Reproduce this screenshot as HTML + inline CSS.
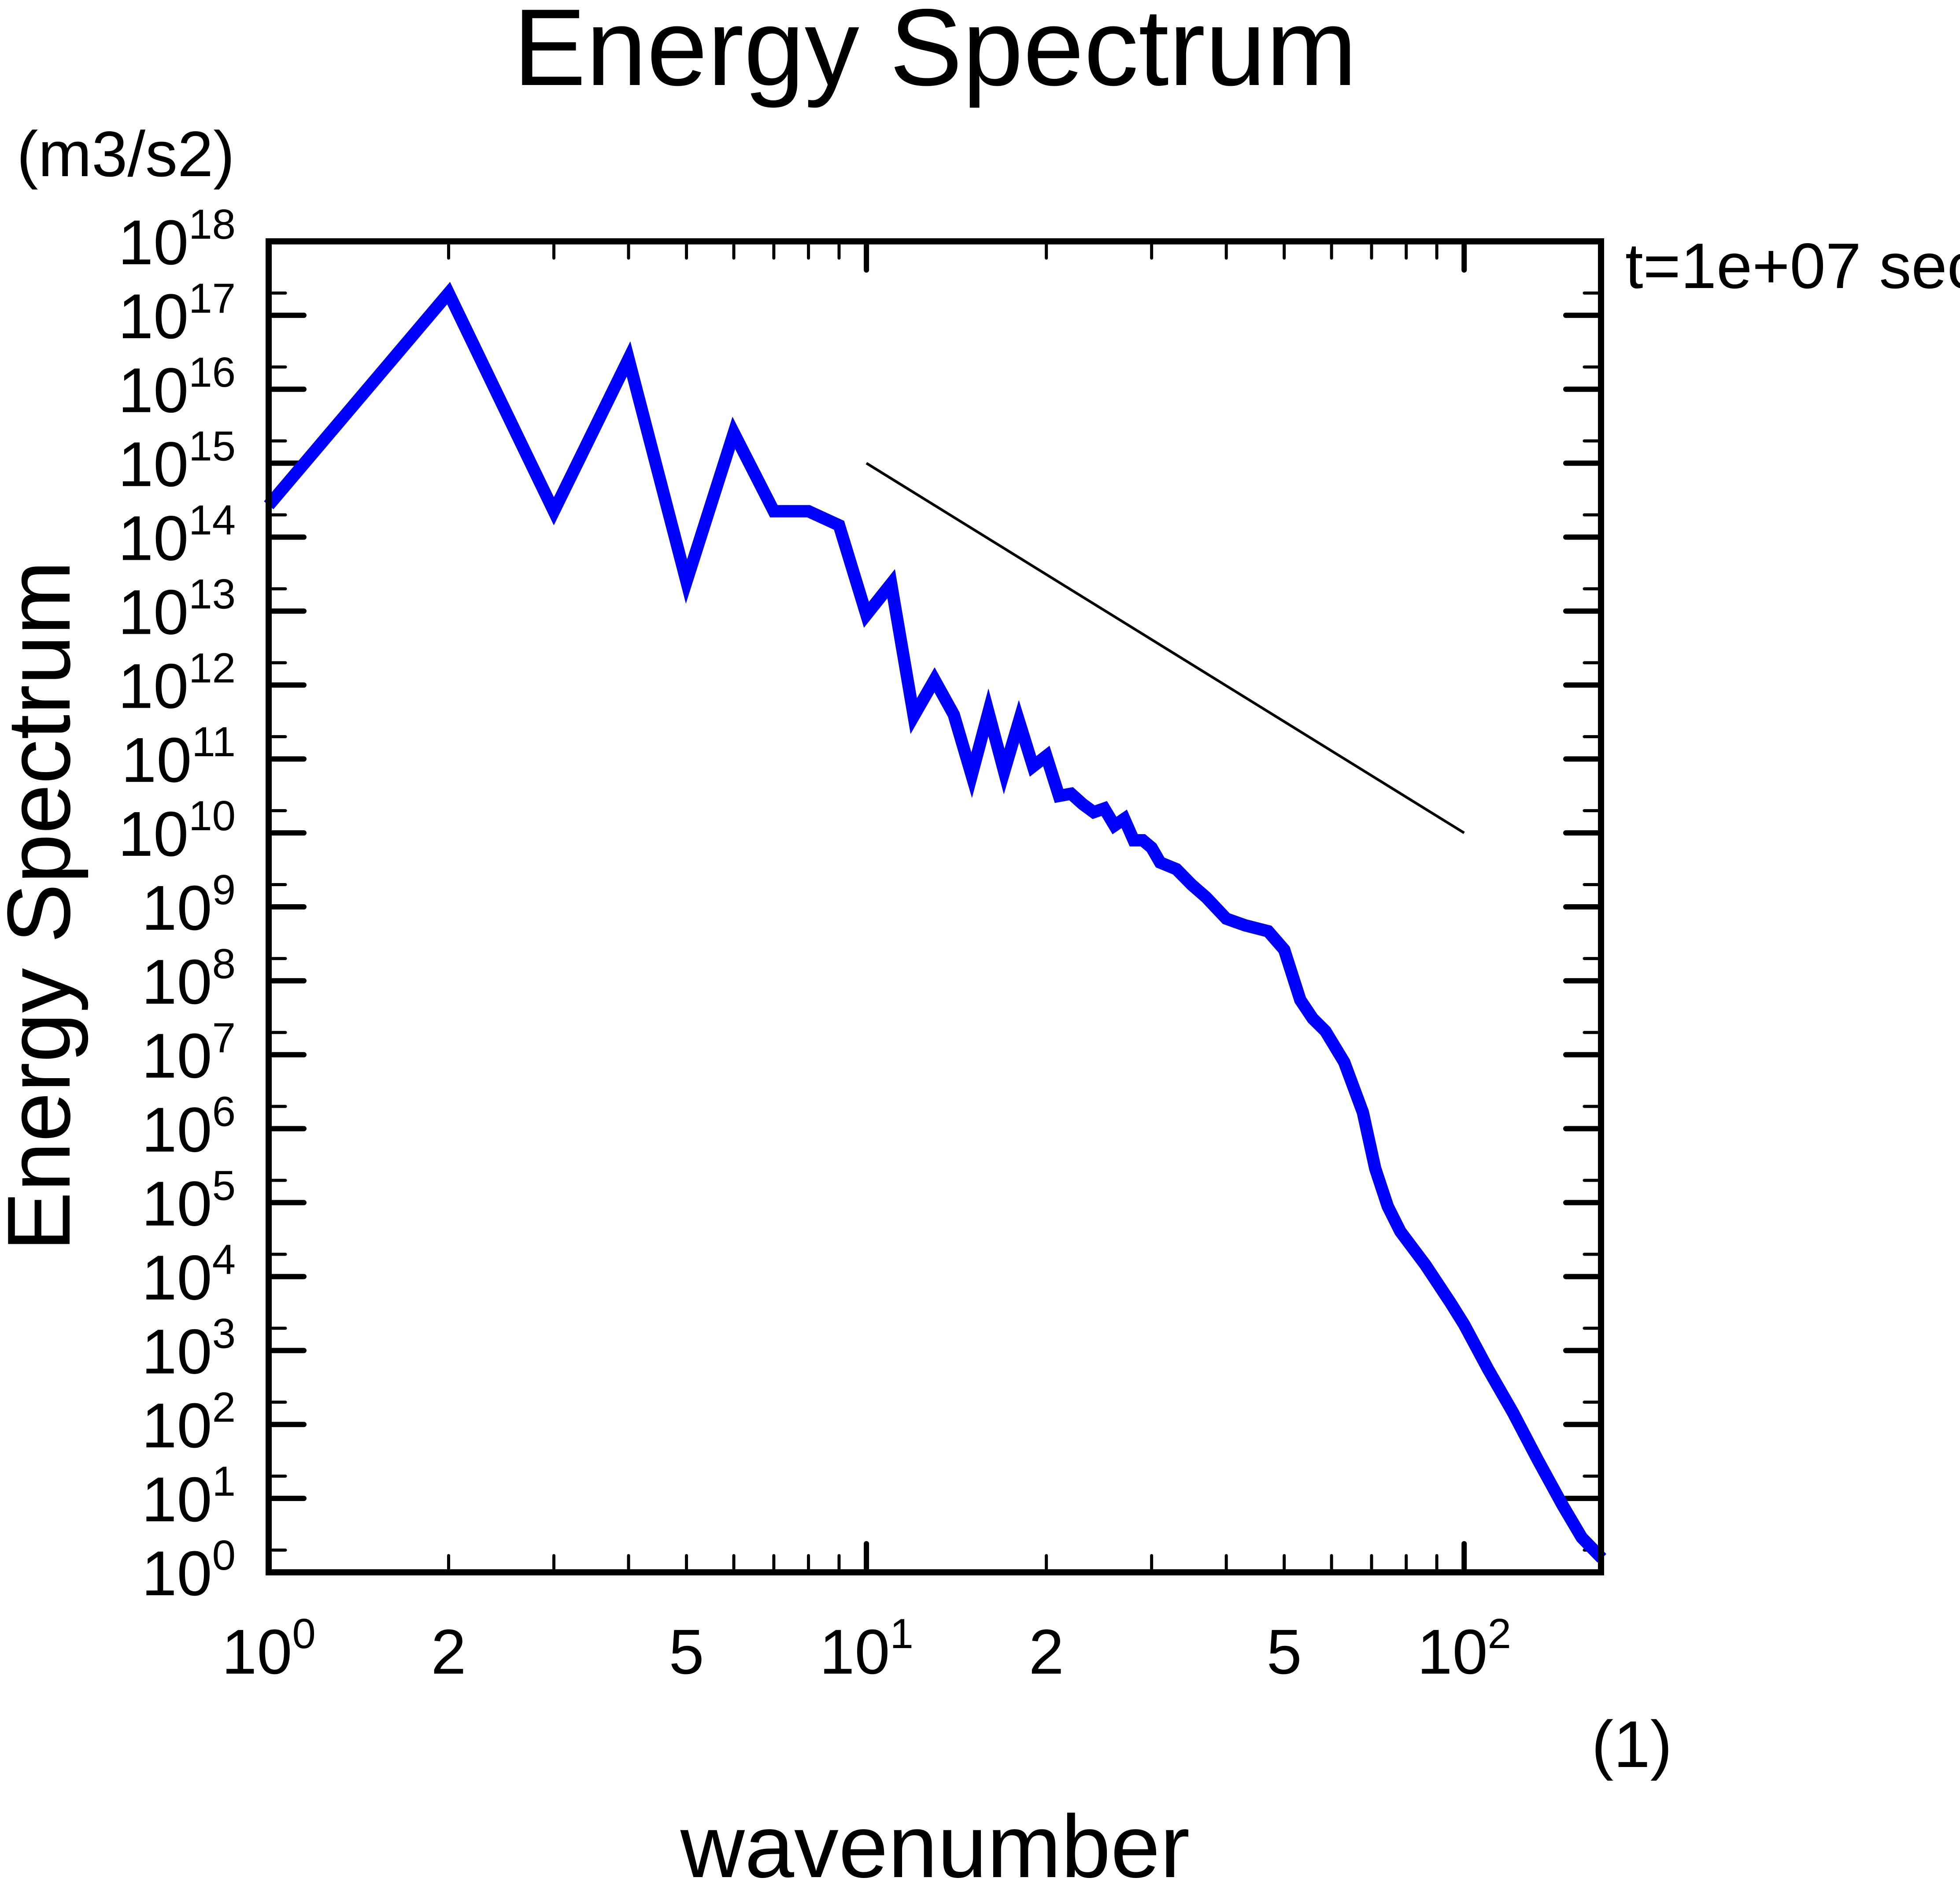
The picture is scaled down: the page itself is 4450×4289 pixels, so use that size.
<!DOCTYPE html>
<html>
<head>
<meta charset="utf-8">
<style>
  html,body{margin:0;padding:0;background:#fff;}
  svg{display:block;font-family:"Liberation Sans",Arial,sans-serif;}
</style>
</head>
<body>
<svg id="chart" width="4450" height="4289" viewBox="0 0 4450 4289" xmlns="http://www.w3.org/2000/svg">
  <rect x="0" y="0" width="4450" height="4289" fill="#fff"/>
  <text x="2123" y="193" font-size="248" text-anchor="middle">Energy Spectrum</text>
  <text x="38" y="400" font-size="146">(m3/s2)</text>
  <text x="3690" y="654" font-size="146">t=1e+07 sec</text>
  <text x="3705" y="4012" font-size="150" text-anchor="middle">(1)</text>
  <text x="2123" y="4262" font-size="202" text-anchor="middle">wavenumber</text>
  <text transform="translate(158,2057) rotate(-90)" font-size="203" text-anchor="middle">Energy Spectrum</text>
  <g id="ticks"></g>
  <g id="labels"></g>
  <g id="series"></g>
  <rect x="610" y="548" width="3025" height="3022" fill="none" stroke="#000" stroke-width="14"/>
</svg>
<script>
// ---- data ----
const wavenumbers = [1,2,3,4,5,6,7,8,9,10,11,12,13,14,15,16,17,18,19,20,21,22,23,24,25,26,27,28,29,30,31,33,35,37,40,43,47,50,53.2,55.8,58.6,63,67.7,71,74.5,78.2,86.1,94.8,100,109.6,120.7,132.8,146.3,157.3,170];
const logEnergy = [14.43,17.3,14.35,16.41,13.4,15.41,14.35,14.35,14.16,12.95,13.37,11.58,12.07,11.6,10.78,11.63,10.83,11.51,10.9,11.04,10.5,10.53,10.39,10.28,10.33,10.1,10.19,9.9,9.9,9.8,9.6,9.51,9.3,9.13,8.84,8.75,8.67,8.42,7.74,7.49,7.32,6.9,6.22,5.46,4.95,4.61,4.16,3.65,3.35,2.75,2.16,1.52,0.9,0.47,0.19];
const refLineK = [10,100];
const refLineLogE = [15,10];
const yTickExponents = [0,1,2,3,4,5,6,7,8,9,10,11,12,13,14,15,16,17,18];
const xTickLabels = [{v:1,base:"10",sup:"0"},{v:2,base:"2",sup:""},{v:5,base:"5",sup:""},{v:10,base:"10",sup:"1"},{v:20,base:"2",sup:""},{v:50,base:"5",sup:""},{v:100,base:"10",sup:"2"}];
const xMinorTicks = [2,3,4,5,6,7,8,9,20,30,40,50,60,70,80,90];
const xMajorTicks = [10,100];

// ---- axes ----
const X0=610, X1=3635, Y0=548, Y1=3570;
const XLOGMAX=2.229, YLOGMAX=18;
function xs(k){return X0+(Math.log10(k)/XLOGMAX)*(X1-X0);}
function ys(le){return Y1-(le/YLOGMAX)*(Y1-Y0);}
const NS="http://www.w3.org/2000/svg";
const ticks=document.getElementById('ticks');
const labels=document.getElementById('labels');
const series=document.getElementById('series');
function line(parent,x1,y1,x2,y2,w,name){
  const l=document.createElementNS(NS,'line');
  l.setAttribute('x1',x1);l.setAttribute('y1',y1);l.setAttribute('x2',x2);l.setAttribute('y2',y2);
  l.setAttribute('stroke','#000');l.setAttribute('stroke-width',w);l.setAttribute('stroke-linecap','round');
  
  
  parent.appendChild(l);
}
yTickExponents.forEach(e=>{
  const y=ys(e);
  line(ticks,X0,y,X0+80,y,12,'y-major-tick');
  line(ticks,X1,y,X1-80,y,12,'y-major-tick');
  if(e<18){
    const ym=ys(e+Math.log10(2));
    line(ticks,X0,ym,X0+38,ym,7,'y-minor-tick');
    line(ticks,X1,ym,X1-38,ym,7,'y-minor-tick');
  }
  const t=document.createElementNS(NS,'text');
  t.setAttribute('x',500);t.setAttribute('y',y+52);t.setAttribute('font-size','144');
  
  
  t.textContent='10';
  const s=document.createElementNS(NS,'tspan');
  s.setAttribute('font-size','96');s.setAttribute('dy','-58');
  s.textContent=String(e);
  t.appendChild(s);
  labels.appendChild(t);
  const w=t.getComputedTextLength();
  t.setAttribute('x',535-w);
});
xMinorTicks.forEach(k=>{
  const x=xs(k);
  line(ticks,x,Y1,x,Y1-38,7,'x-minor-tick');
  line(ticks,x,Y0,x,Y0+38,7,'x-minor-tick');
});
xMajorTicks.forEach(k=>{
  const x=xs(k);
  line(ticks,x,Y1,x,Y1-65,12,'x-major-tick');
  line(ticks,x,Y0,x,Y0+65,12,'x-major-tick');
});
xTickLabels.forEach(o=>{
  const t=document.createElementNS(NS,'text');
  t.setAttribute('y',3800);t.setAttribute('font-size','144');
  
  
  t.textContent=o.base;
  if(o.sup){
    const s=document.createElementNS(NS,'tspan');
    s.setAttribute('font-size','96');s.setAttribute('dy','-58');
    s.textContent=o.sup;t.appendChild(s);
  }
  labels.appendChild(t);
  const w=t.getComputedTextLength();
  t.setAttribute('x',xs(o.v)-w/2);
});
const ref=document.createElementNS(NS,'polyline');
ref.setAttribute('points',refLineK.map((k,i)=>xs(k)+','+ys(refLineLogE[i])).join(' '));
ref.setAttribute('fill','none');ref.setAttribute('stroke','#000');ref.setAttribute('stroke-width','6');


series.appendChild(ref);
const pl=document.createElementNS(NS,'polyline');
pl.setAttribute('points',wavenumbers.map((k,i)=>xs(k)+','+ys(logEnergy[i])).join(' '));
pl.setAttribute('fill','none');pl.setAttribute('stroke','#0000ff');pl.setAttribute('stroke-width','28');
pl.setAttribute('stroke-linejoin','miter');


series.appendChild(pl);
</script>
</body>
</html>
